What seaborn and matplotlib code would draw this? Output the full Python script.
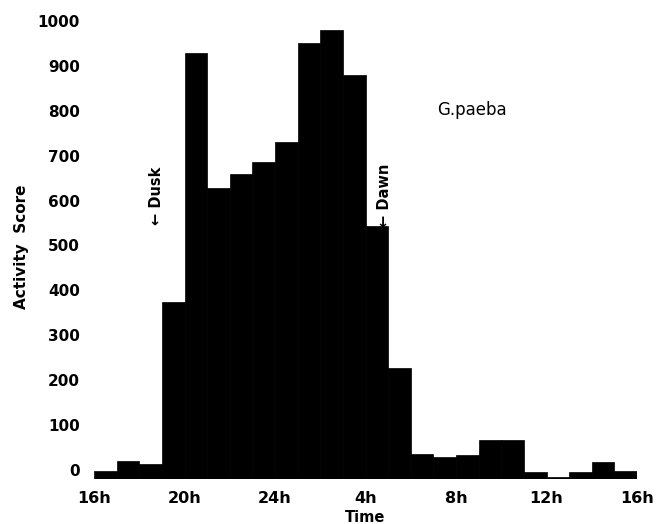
import matplotlib
matplotlib.use("Agg")
import matplotlib.pyplot as plt
import seaborn as sns
import pandas as pd

# Data: hourly activity score, from 16h through to 16h next day
hour_labels = ["16h", "20h", "24h", "4h", "8h", "12h", "16h"]
activity = [-3, 20, 13, 374, 929, 628, 659, 686, 730, 951, 980, 880,
            543, 227, 36, 29, 33, 67, 67, -4, -15, -4, 18, -2]
hour_index = list(range(24))
y_ticks = [0, 100, 200, 300, 400, 500, 600, 700, 800, 900, 1000]
floor_value = -19  # drawn baseline of the histogram

sns.set_theme(style="white")
plt.rcParams['font.family'] = ['DejaVu Sans']
plt.rcParams['text.color'] = 'black'
plt.rcParams['axes.labelcolor'] = 'black'
plt.rcParams['xtick.color'] = 'black'
plt.rcParams['ytick.color'] = 'black'

df = pd.DataFrame({"hour": [h + 0.5 for h in hour_index],
                   "height": [v - floor_value for v in activity]})

fig = plt.figure(figsize=(6.68, 5.24), dpi=100)
ax = fig.add_axes([94 / 668, 0.0868, 543 / 668, 0.8845])

sns.barplot(data=df, x="hour", y="height", native_scale=True, width=1.0,
            color="black", errorbar=None, bottom=floor_value,
            edgecolor="black", linewidth=0.5, ax=ax, saturation=1)

ax.set_xlim(0, 24)
ax.set_ylim(floor_value, 1013)
ax.set_xticks([0, 4, 8, 12, 16, 20, 24])
ax.set_xticklabels(hour_labels, fontsize=11.5, fontweight="bold")
ax.set_yticks(y_ticks)
ax.set_yticklabels([str(t) for t in y_ticks], fontsize=11, fontweight="bold")
ax.tick_params(axis="x", length=0, pad=9)
ax.tick_params(axis="y", length=0, pad=10)
ax.set_xlabel("Time", fontsize=10.5, fontweight="bold", labelpad=3)
ax.set_ylabel("Activity  Score", fontsize=11, fontweight="bold", labelpad=6)
for s in ax.spines.values():
    s.set_visible(False)

ax.text(2.75, 610, "\u2190 Dusk", rotation=90, ha="center", va="center",
        fontsize=10.5, fontweight="bold")
ax.text(12.85, 612, "\u2190 Dawn", rotation=90, ha="center", va="center",
        fontsize=10.5, fontweight="bold")
ax.text(16.7, 802, "G.paeba", ha="center", va="center", fontsize=12)

fig.savefig("out.png", dpi=100)
